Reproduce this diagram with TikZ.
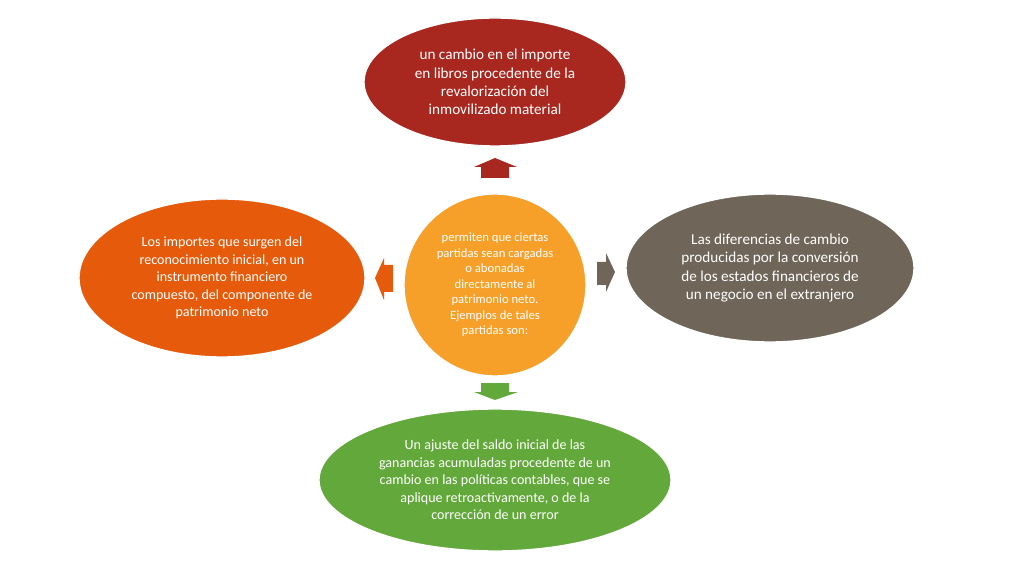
\documentclass[tikz,border=0pt]{standalone}
\usepackage{fontspec}
\setmainfont{Carlito}
\definecolor{cred}{HTML}{A8281F}
\definecolor{cgray}{HTML}{6F6659}
\definecolor{corange}{HTML}{E65A0C}
\definecolor{cgreen}{HTML}{63A83B}
\definecolor{ccenter}{HTML}{F6A02A}
\begin{document}
\begin{tikzpicture}[x=0.025cm,y=-0.025cm,
  blob/.style={ellipse,draw=white,line width=1pt,text=white,align=center,font=\fontsize{10.8}{13}\selectfont,inner sep=0pt},
  arr/.style={draw=none}]
\useasboundingbox (0,0) rectangle (1024,576);
\usetikzlibrary{shapes.geometric}
\node[blob,fill=cred,minimum width=262\pgflinewidth*0+6.55cm,minimum height=3.2cm] (top) at (495,82) {un cambio en el importe\\en libros procedente de la\\revalorización del\\inmovilizado material};
\node[blob,fill=cgray,minimum width=7.2cm,minimum height=3.7cm] (right) at (770,268) {Las diferencias de cambio\\producidas por la conversión\\de los estados financieros de\\un negocio en el extranjero};
\node[blob,fill=corange,minimum width=7.15cm,minimum height=3.95cm,font=\fontsize{10}{12.5}\selectfont] (left) at (222,278) {Los importes que surgen del\\reconocimiento inicial, en un\\instrumento financiero\\compuesto, del componente de\\patrimonio neto};
\node[blob,fill=cgreen,minimum width=8.8cm,minimum height=3.55cm,font=\fontsize{10}{12.5}\selectfont] (bottom) at (495,480) {Un ajuste del saldo inicial de las\\ganancias acumuladas procedente de un\\cambio en las políticas contables, que se\\aplique retroactivamente, o de la\\corrección de un error};
\node[blob,circle,fill=ccenter,minimum size=4.55cm,font=\fontsize{9}{11}\selectfont] (center) at (495,285) {permiten que ciertas\\partidas sean cargadas\\o abonadas\\directamente al\\patrimonio neto.\\Ejemplos de tales\\partidas son:};
\fill[cred] (495,158) -- (517,167) -- (509,167) -- (509,178) -- (481,178) -- (481,167) -- (474,167) -- cycle;
\fill[cgray] (615,272) -- (606,292) -- (606,285) -- (597,285) -- (597,262) -- (606,262) -- (606,253) -- cycle;
\fill[corange] (375,278) -- (384,258) -- (384,265) -- (393,265) -- (393,292) -- (384,292) -- (384,300) -- cycle;
\fill[cgreen] (495,400) -- (518,392) -- (509,392) -- (509,383) -- (481,383) -- (481,392) -- (474,392) -- cycle;
\end{tikzpicture}
\end{document}
